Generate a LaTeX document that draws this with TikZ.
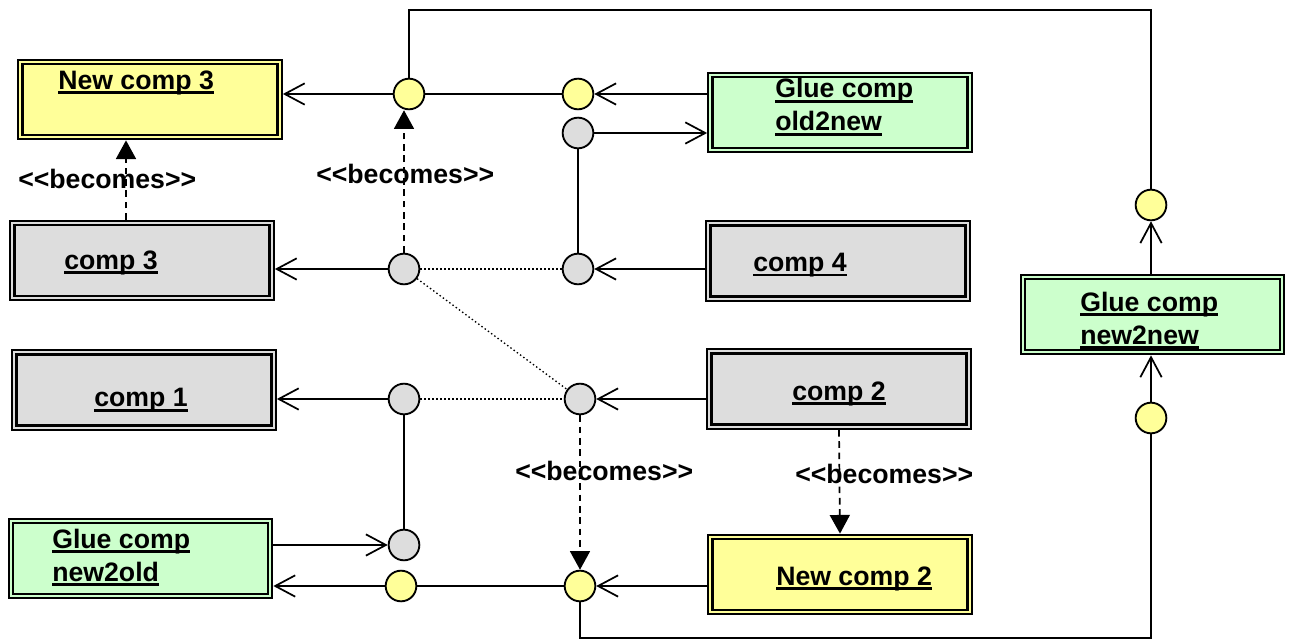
\documentclass[tikz,border=0pt]{standalone}
\usepackage{fontspec}
\setmainfont{Liberation Sans}[Ligatures=TeXOff]
\usetikzlibrary{arrows.meta}
\definecolor{ylw}{HTML}{FFFF99}
\definecolor{gry}{HTML}{DDDDDD}
\definecolor{grn}{HTML}{CCFFCC}
\newcommand\ulw[1]{\setbox0\hbox{#1}\rlap{\rule[-0.18em]{\wd0}{0.11em}}\box0}
\begin{document}
\begin{tikzpicture}[x=0.75pt,y=-0.75pt,
  font=\fontsize{20}{24.75}\selectfont\bfseries,
  comp/.style={draw=black, line width=1.7pt, double distance=1.4pt,
    minimum width=194.5pt, minimum height=56.5pt, inner sep=0pt, outer sep=2.4pt},
  ybox/.style={comp, fill=ylw, double=ylw},
  gbox/.style={comp, fill=gry, double=gry},
  nbox/.style={comp, fill=grn, double=grn},
  port/.style={circle, draw=black, line width=1.4pt, minimum size=23pt, inner sep=0pt},
  yport/.style={port, fill=ylw},
  gport/.style={port, fill=gry},
  txt/.style={anchor=base west, inner sep=0pt, align=left},
  conn/.style={line width=1.3pt},
  iface/.style={conn, -{Straight Barb[length=15pt,width=16pt]}},
  becomes/.style={conn, dash pattern=on 5pt off 3.5pt, -{Triangle[length=14pt,width=15pt]}},
  dotline/.style={line width=1pt, dash pattern=on 1.1pt off 1.9pt},
]
\useasboundingbox (0,0) rectangle (1295,641);

% component boxes
\node[ybox] (nc3) at (150,99.5) {};
\node[gbox] (c3) at (142,260.5) {};
\node[gbox] (c1) at (144,390) {};
\node[nbox] (n2o) at (140.5,558.5) {};
\node[nbox] (o2n) at (840,112.5) {};
\node[gbox] (c4) at (838,261) {};
\node[gbox] (c2) at (839,389) {};
\node[ybox] (nc2) at (840,574.5) {};
\node[nbox] (n2n) at (1152.5,314.5) {};

% box texts (multi-line nodes are placed by the baseline of their last line)
\node[txt] (t-nc3) at (58,89.3) {\ulw{New comp 3}};
\node[txt] (t-c3) at (64,269.3) {\ulw{comp 3}};
\node[txt] (t-c1) at (94,406.7) {\ulw{comp 1}};
\node[txt] (t-n2o) at (52,581.5) {\ulw{Glue comp}\\\ulw{new2old}};
\node[txt] (t-o2n) at (775,131) {\ulw{Glue comp}\\\ulw{old2new}};
\node[txt] (t-c4) at (753,271.7) {\ulw{comp 4}};
\node[txt] (t-c2) at (792,400) {\ulw{comp 2}};
\node[txt] (t-nc2) at (776,585) {\ulw{New comp 2}};
\node[txt] (t-n2n) at (1080,344.5) {\ulw{Glue comp}\\\ulw{new2new}};

% ports
\node[yport] (y1) at (409,94) {};
\node[yport] (y2) at (578,94) {};
\node[gport] (g1) at (578,133) {};
\node[gport] (g2) at (404,269) {};
\node[gport] (g3) at (578,269) {};
\node[gport] (g4) at (404,399) {};
\node[gport] (g5) at (580,399) {};
\node[gport] (g6) at (404,545) {};
\node[yport] (y3) at (401,586) {};
\node[yport] (y4) at (580,586) {};
\node[yport] (y5) at (1151,205) {};
\node[yport] (y6) at (1151,418) {};

\coordinate (tr) at (1151,10);
\coordinate (br) at (1151,638);

% labels
\node[txt] (l1) at (18,188.3) {<<becomes>>};
\node[txt] (l2) at (316,183.3) {<<becomes>>};
\node[txt] (l3) at (515,480) {<<becomes>>};
\node[txt] (l4) at (795,483.3) {<<becomes>>};

% connectors
\draw[iface] (y1) -- (nc3.east |- y1);
\draw[conn] (y1) -- (y2);
\draw[iface] (o2n.west |- y2) -- (y2);
\draw[iface] (g1) -- (o2n.west |- g1);
\draw[conn] (g1) -- (g3);
\draw[iface] (c4.west |- g3) -- (g3);
\draw[dotline] (g2) -- (g3);
\draw[iface] (g2) -- (c3.east |- g2);
\draw[becomes] (g2.north) -- (g2.north |- y1.south);
\draw[becomes] ([xshift=-12pt]c3.north) -- ([xshift=-12pt]c3.north |- nc3.south);
\draw[dotline] (g2) -- (g5);
\draw[dotline] (g4) -- (g5);
\draw[iface] (g4) -- (c1.east |- g4);
\draw[conn] (g4) -- (g6);
\draw[iface] (c2.west |- g5) -- (g5);
\draw[becomes] (g5) -- (y4);
\draw[becomes] (c2.south) -- (nc2.north);
\draw[iface] (n2o.east |- g6) -- (g6);
\draw[iface] (y3) -- (n2o.east |- y3);
\draw[conn] (y3) -- (y4);
\draw[iface] (nc2.west |- y4) -- (y4);
\draw[conn] (y4.south) |- (br) -- (y6.south);
\draw[iface] (y6) -- (y6 |- n2n.south);
\draw[iface] (y5 |- n2n.north) -- (y5);
\draw[conn] (y1.north) |- (tr) -- (y5.north);
\end{tikzpicture}
\end{document}
